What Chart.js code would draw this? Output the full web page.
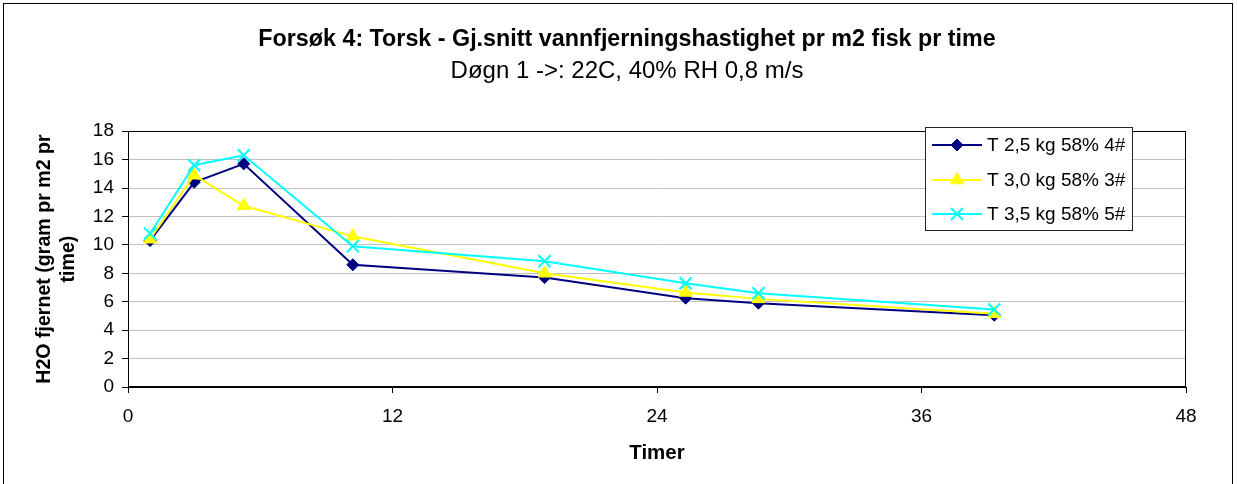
<!DOCTYPE html>
<html>
<head>
<meta charset="utf-8">
<title>Forsøk 4: Torsk</title>
<script src="https://cdn.jsdelivr.net/npm/chart.js@4.4.1/dist/chart.umd.min.js"></script>
<style>
  body { margin: 0; background: #fff; }
  canvas { display: block; }
</style>
</head>
<body>
<canvas id="graf" width="1237" height="484"></canvas>
<script>
// timer (x) og vannfjerning (y) lest av figuren
const timer = [1, 3, 5.25, 10.2, 18.9, 25.3, 28.6, 39.3];
const t25 = [10.3, 14.4, 15.7, 8.6, 7.7, 6.25, 5.9, 5.05];
const t30 = [10.4, 14.9, 12.75, 10.6, 8.0, 6.65, 6.2, 5.15];
const t35 = [10.8, 15.6, 16.3, 9.9, 8.85, 7.3, 6.6, 5.45];
const serier = ['T 2,5 kg 58% 4#', 'T 3,0 kg 58% 3#', 'T 3,5 kg 58% 5#'];
const xTicks = [0, 12, 24, 36, 48];
const yTicks = [0, 2, 4, 6, 8, 10, 12, 14, 16, 18];

Chart.defaults.font.family = '"Liberation Sans", Arial, sans-serif';
Chart.defaults.color = '#000';

function punkter(verdier) {
  return timer.map((x, i) => ({ x: x, y: verdier[i] }));
}

// ramme rundt figuren, plottområdet og egen forklaring (legend)
const ramme = {
  id: 'ramme',
  beforeDraw(chart) {
    const ctx = chart.ctx;
    ctx.save();
    ctx.fillStyle = '#fff';
    ctx.fillRect(0, 0, chart.width, chart.height);
    ctx.strokeStyle = '#000';
    ctx.lineWidth = 1;
    ctx.strokeRect(3.5, 3.5, 1229, 600);
    ctx.restore();
  },
  beforeDatasetsDraw(chart) {
    const a = chart.chartArea;
    const ctx = chart.ctx;
    ctx.save();
    ctx.strokeStyle = '#000';
    ctx.lineWidth = 1;
    ctx.strokeRect(Math.round(a.left) + 0.5, Math.round(a.top) + 0.5,
      Math.round(a.right - a.left) - 1, Math.round(a.bottom - a.top) - 1);
    ctx.restore();
  },
  afterDraw(chart) {
    const ctx = chart.ctx;
    ctx.save();
    ctx.fillStyle = '#fff';
    ctx.fillRect(925, 127, 208, 103);
    ctx.strokeStyle = '#222';
    ctx.lineWidth = 1;
    ctx.strokeRect(925.5, 127.5, 207, 103);
    const ys = [145, 180, 214];
    chart.data.datasets.forEach((ds, i) => {
      const y = ys[i];
      ctx.strokeStyle = ds.borderColor;
      ctx.lineWidth = ds.borderWidth;
      ctx.beginPath();
      ctx.moveTo(932, y);
      ctx.lineTo(982, y);
      ctx.stroke();
      ctx.fillStyle = ds.pointBackgroundColor;
      ctx.strokeStyle = ds.pointBorderColor;
      ctx.lineWidth = ds.pointBorderWidth;
      Chart.helpers.drawPoint(ctx, {
        pointStyle: ds.pointStyle,
        radius: ds.pointRadius,
        rotation: 0,
        borderWidth: ds.pointBorderWidth
      }, 957, y);
      ctx.fillStyle = '#000';
      ctx.font = '19px "Liberation Sans", Arial, sans-serif';
      ctx.textAlign = 'left';
      ctx.textBaseline = 'middle';
      ctx.fillText(ds.label, 987, y + 1);
    });
    ctx.restore();
  }
};

new Chart(document.getElementById('graf'), {
  type: 'scatter',
  data: {
    datasets: [
      {
        label: serier[0],
        data: punkter(t25),
        showLine: true,
        borderColor: '#000080',
        borderWidth: 2,
        pointStyle: 'rectRot',
        pointRadius: 6,
        pointBackgroundColor: '#000080',
        pointBorderColor: '#000080',
        pointBorderWidth: 1,
        order: 3
      },
      {
        label: serier[1],
        data: punkter(t30),
        showLine: true,
        borderColor: '#ffff00',
        borderWidth: 2,
        pointStyle: 'triangle',
        pointRadius: 7.5,
        pointBackgroundColor: '#ffff00',
        pointBorderColor: '#ffff00',
        pointBorderWidth: 1,
        order: 2
      },
      {
        label: serier[2],
        data: punkter(t35),
        showLine: true,
        borderColor: '#00ffff',
        borderWidth: 2,
        pointStyle: 'crossRot',
        pointRadius: 8.5,
        pointBackgroundColor: '#00ffff',
        pointBorderColor: '#00ffff',
        pointBorderWidth: 2,
        order: 1
      }
    ]
  },
  options: {
    responsive: false,
    animation: false,
    layout: { padding: { left: 20, right: 3, top: 0, bottom: 0 } },
    plugins: {
      legend: { display: false },
      tooltip: { enabled: false },
      title: {
        display: true,
        text: 'Forsøk 4: Torsk - Gj.snitt vannfjerningshastighet pr m2 fisk pr time',
        color: '#000',
        font: { size: 23.3, weight: 'bold' },
        padding: { top: 26, bottom: 0 }
      },
      subtitle: {
        display: true,
        text: 'Døgn 1 ->: 22C, 40% RH 0,8 m/s',
        color: '#000',
        font: { size: 24 },
        padding: { top: 3, bottom: 45.4 }
      }
    },
    scales: {
      x: {
        type: 'linear',
        min: 0,
        max: 48,
        afterBuildTicks: (s) => { s.ticks = xTicks.map(v => ({ value: v })); },
        afterFit: (s) => { s.height = 97; },
        grid: { display: true, drawOnChartArea: false, tickLength: 6, tickColor: '#000' },
        border: { color: '#000' },
        ticks: { color: '#000', font: { size: 19 }, padding: 12 },
        title: {
          display: true,
          text: 'Timer',
          color: '#000',
          font: { size: 20.5, weight: 'bold' },
          padding: { top: 0, bottom: 18 }
        }
      },
      y: {
        min: 0,
        max: 18,
        afterBuildTicks: (s) => { s.ticks = yTicks.map(v => ({ value: v })); },
        afterFit: (s) => { s.width = 108; },
        grid: { color: '#c0c0c0', tickColor: '#000', tickLength: 6 },
        border: { color: '#000' },
        ticks: { color: '#000', font: { size: 19 }, padding: 8 },
        title: {
          display: true,
          text: ['H2O fjernet (gram pr m2 pr', 'time)'],
          color: '#000',
          font: { size: 19.6, weight: 'bold' },
          padding: { top: 13, bottom: 0 }
        }
      },
      yR: {
        position: 'right',
        display: true,
        grid: { display: false },
        border: { display: false },
        ticks: { display: false },
        afterFit: (s) => { s.width = 48; }
      }
    }
  },
  plugins: [ramme]
});
</script>
</body>
</html>
